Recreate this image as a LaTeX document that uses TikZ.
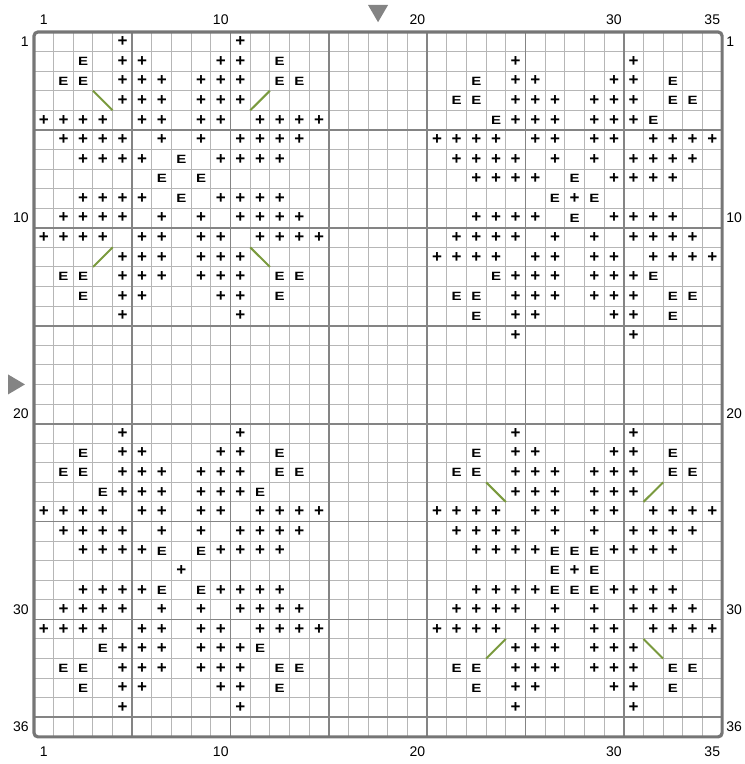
\documentclass[tikz,border=0pt]{standalone}
\usepackage{fontspec}
\setmainfont{Liberation Sans}
\usepackage{xcolor}
\usetikzlibrary{arrows.meta}

\definecolor{gridminor}{RGB}{182,182,182}
\definecolor{gridmajor}{RGB}{132,132,132}
\definecolor{gridframe}{RGB}{118,118,118}
\definecolor{backstitch}{RGB}{122,154,62}

\newcommand{\estitch}{\scalebox{1.25}[1]{E}}

\begin{document}
\begin{tikzpicture}[
  x=9.83pt, y=-9.79pt,
  every node/.style={inner sep=0pt},
  minor/.style={draw=gridminor, line width=0.5pt},
  major/.style={draw=gridmajor, line width=0.9pt},
  frame/.style={draw=gridframe, line width=1.6pt, rounded corners=2pt},
  plus/.style={font=\fontsize{8.5}{8.5}\selectfont\bfseries},
  ecross/.style={font=\fontsize{6}{6}\selectfont\bfseries},
  backst/.style={draw=backstitch, line width=1pt},
  marker/.style={fill=gridmajor},
  numlabel/.style={font=\fontsize{7}{8}\selectfont},
]
\useasboundingbox (-1.729,-1.634) rectangle (36.114,37.385);

% Grid: cells, every fifth line, frame
\foreach \i in {1,...,34} \draw[minor] (\i,0) -- (\i,36);
\foreach \j in {1,...,35} \draw[minor] (0,\j) -- (35,\j);
\foreach \i in {5,10,...,30} \draw[major] (\i,0) -- (\i,36);
\foreach \j in {5,10,...,35} \draw[major] (0,\j) -- (35,\j);
\draw[frame] (0,0) rectangle (35,36);

% Centre markers
\fill[marker] (16.99,-1.38) -- (18.01,-1.38) -- (17.5,-0.5) -- cycle;
\fill[marker] (-1.32,17.49) -- (-1.32,18.51) -- (-0.46,18) -- cycle;

% Column numbers
\foreach \cx in {1,10,20,30,35} {
  \node[numlabel] (top\cx) at (\cx-.5,-0.62) {\cx};
  \node[numlabel] (bot\cx) at (\cx-.5,36.77) {\cx};
}
% Row numbers
\foreach \ry in {1,10,20,30,36} {
  \node[numlabel, anchor=east] (left\ry) at (-0.25,\ry-.5) {\ry};
  \node[numlabel, anchor=west] (right\ry) at (35.2,\ry-.5) {\ry};
}

% Cross stitches, upper motifs
\foreach \ry/\cols in {
  1/{5,11}, 2/{5,6,10,11,25,31}, 3/{5,6,7,9,10,11,25,26,30,31},
  4/{5,6,7,9,10,11,25,26,27,29,30,31},
  5/{1,2,3,4,6,7,9,10,12,13,14,15,25,26,27,29,30,31},
  6/{2,3,4,5,7,9,11,12,13,14,21,22,23,24,26,27,29,30,32,33,34,35},
  7/{3,4,5,6,10,11,12,13,22,23,24,25,27,29,31,32,33,34},
  8/{23,24,25,26,30,31,32,33}, 9/{3,4,5,6,10,11,12,13,28},
  10/{2,3,4,5,7,9,11,12,13,14,23,24,25,26,30,31,32,33},
  11/{1,2,3,4,6,7,9,10,12,13,14,15,22,23,24,25,27,29,31,32,33,34},
  12/{5,6,7,9,10,11,21,22,23,24,26,27,29,30,32,33,34,35},
  13/{5,6,7,9,10,11,25,26,27,29,30,31},
  14/{5,6,10,11,25,26,27,29,30,31}, 15/{5,11,25,26,30,31}, 16/{25,31}}
  \foreach \cx in \cols \node[plus] (p-\cx-\ry) at (\cx-.5,\ry-.5) {+};

% Cross stitches, lower motifs
\foreach \ry/\cols in {
  21/{5,11,25,31}, 22/{5,6,10,11,25,26,30,31},
  23/{5,6,7,9,10,11,25,26,27,29,30,31}, 24/{5,6,7,9,10,11,25,26,27,29,30,31},
  25/{1,2,3,4,6,7,9,10,12,13,14,15,21,22,23,24,26,27,29,30,32,33,34,35},
  26/{2,3,4,5,7,9,11,12,13,14,22,23,24,25,27,29,31,32,33,34},
  27/{3,4,5,6,10,11,12,13,23,24,25,26,30,31,32,33}, 28/{8,28},
  29/{3,4,5,6,10,11,12,13,23,24,25,26,30,31,32,33},
  30/{2,3,4,5,7,9,11,12,13,14,22,23,24,25,27,29,31,32,33,34},
  31/{1,2,3,4,6,7,9,10,12,13,14,15,21,22,23,24,26,27,29,30,32,33,34,35},
  32/{5,6,7,9,10,11,25,26,27,29,30,31}, 33/{5,6,7,9,10,11,25,26,27,29,30,31},
  34/{5,6,10,11,25,26,30,31}, 35/{5,11,25,31}}
  \foreach \cx in \cols \node[plus] (p-\cx-\ry) at (\cx-.5,\ry-.5) {+};

% Second colour (E)
\foreach \ry/\cols in {
  2/{3,13}, 3/{2,3,13,14,23,33}, 4/{22,23,33,34}, 5/{24,32}, 7/{8},
  8/{7,9,28}, 9/{8,27,29}, 10/{28}, 13/{2,3,13,14,24,32},
  14/{3,13,22,23,33,34}, 15/{23,33},
  22/{3,13,23,33}, 23/{2,3,13,14,22,23,33,34}, 24/{4,12},
  27/{7,9,27,28,29}, 28/{27,29}, 29/{7,9,27,28,29}, 32/{4,12},
  33/{2,3,13,14,22,23,33,34}, 34/{3,13,23,33}}
  \foreach \cx in \cols \node[ecross] (e-\cx-\ry) at (\cx-.5,\ry-.5) {\estitch};

% Back stitches
\draw[backst] (3,3) -- (4,4);
\draw[backst] (11,4) -- (12,3);
\draw[backst] (3,12) -- (4,11);
\draw[backst] (11,11) -- (12,12);
\draw[backst] (23,23) -- (24,24);
\draw[backst] (31,24) -- (32,23);
\draw[backst] (23,32) -- (24,31);
\draw[backst] (31,31) -- (32,32);

\end{tikzpicture}
\end{document}
